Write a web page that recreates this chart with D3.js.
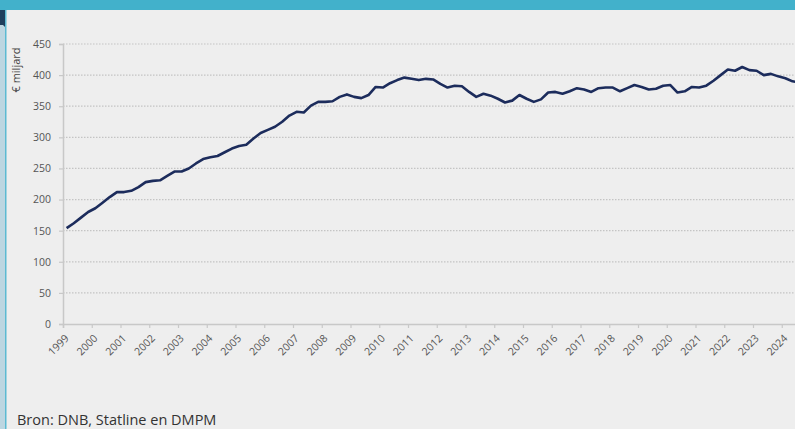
<!DOCTYPE html>
<html>
<head>
<meta charset="utf-8">
<script src="https://cdn.jsdelivr.net/npm/d3@7"></script>
<style>
  body { margin: 0; background: #eeeeee; }
  svg { display: block; }
</style>
</head>
<body>
<svg id="chart" width="795" height="429"></svg>
<script>
// quarterly values, € miljard, starting 1999 Q1
var startYear = 1999
var values = [
	154, 162, 171, 180,   // 1999
	186, 195, 204, 212,   // 2000
	212, 214, 220, 228,   // 2001
	230, 231, 238, 245,   // 2002
	245, 250, 258, 265,   // 2003
	268, 270, 276, 282,   // 2004
	286, 288, 298, 307,   // 2005
	312, 317, 325, 335,   // 2006
	341, 340, 351, 357,   // 2007
	357, 358, 365, 369,   // 2008
	365, 363, 368, 381,   // 2009
	380, 387, 392, 396,   // 2010
	394, 392, 394, 393,   // 2011
	386, 380, 383, 382,   // 2012
	373, 365, 370, 367,   // 2013
	362, 356, 359, 368,   // 2014
	362, 357, 361, 372,   // 2015
	373, 370, 374, 379,   // 2016
	377, 373, 379, 380,   // 2017
	380, 374, 379, 384,   // 2018
	381, 377, 378, 383,   // 2019
	384, 372, 374, 381,   // 2020
	380, 383, 391, 400,   // 2021
	409, 407, 413, 408,   // 2022
	407, 400, 402, 398,   // 2023
	395, 390, 388         // 2024
]
var yearTicks = d3.range(1999, 2025)
var yTicks = [0, 50, 100, 150, 200, 250, 300, 350, 400, 450]
var yTitle = '€ miljard'
var source = 'Bron: DNB, Statline en DMPM'

var svg = d3.select('#chart'),
	W = +svg.attr('width'),
	H = +svg.attr('height'),
	plot = {left: 63, right: 795, top: 44, bottom: 324}

// frame decoration
svg.append('rect').attr('x', 0).attr('y', 0).attr('width', W).attr('height', H).attr('fill', '#eeeeee')
svg.append('rect').attr('x', 0).attr('y', 0).attr('width', W).attr('height', 10).attr('fill', '#42b1cb')
svg.append('rect').attr('x', 0).attr('y', 10).attr('width', 6).attr('height', H - 10).attr('fill', '#bcd6e1')
svg.append('path').attr('d', 'M0,10 L5,10 L5,27 L3,25 L0,25 Z').attr('fill', '#1f3f5c')
svg.append('rect').attr('x', 5).attr('y', 10).attr('width', 1.5).attr('height', H - 10).attr('fill', '#5bbad2')

var x = d3.scaleLinear().domain([1999, 2025]).range([plot.left, plot.left + 26 * 28.75])
var y = d3.scaleLinear().domain([0, 450]).range([plot.bottom, plot.top])

var g = svg.append('g')

// gridlines
g.selectAll('line.grid').data(yTicks.filter(function(d) { return d > 0 }))
	.enter().append('line')
	.attr('x1', plot.left).attr('x2', plot.right)
	.attr('y1', function(d) { return y(d) }).attr('y2', function(d) { return y(d) })
	.attr('stroke', '#c4c4c4').attr('stroke-width', 1.2)
	.attr('stroke-dasharray', '1.5,1.5')

// y axis
var yAxis = g.append('g').attr('transform', 'translate(' + plot.left + ',0)')
	.call(d3.axisLeft(y).tickValues(yTicks).tickSize(4).tickPadding(8))
yAxis.select('.domain').attr('stroke', '#c8c8c8').attr('stroke-width', 1.5)
yAxis.selectAll('.tick line').attr('stroke', '#c8c8c8').attr('stroke-width', 1.2)
yAxis.selectAll('text').attr('fill', '#555').attr('font-size', 10.5)
	.attr('font-family', 'Open Sans, sans-serif')

// x axis
var xAxis = g.append('g').attr('transform', 'translate(0,' + plot.bottom + ')')
	.call(d3.axisBottom(x).tickValues(yearTicks.concat([2025])).tickSize(4)
		.tickFormat(function(d) { return d < 2025 ? d : '' }))
xAxis.select('.domain').attr('stroke', '#c8c8c8').attr('stroke-width', 1.5)
xAxis.selectAll('.tick line').attr('stroke', '#c8c8c8').attr('stroke-width', 1.2)
xAxis.selectAll('text')
	.attr('fill', '#555').attr('font-size', 10.5)
	.attr('font-family', 'Open Sans, sans-serif')
	.attr('text-anchor', 'end')
	.attr('dy', null).attr('y', null)
	.attr('transform', 'translate(6,15) rotate(-45)')

// line
var line = d3.line()
	.x(function(d, i) { return x(startYear + (i + 0.5) / 4) })
	.y(function(d) { return y(d) })

g.append('path').datum(values)
	.attr('d', line)
	.attr('fill', 'none')
	.attr('stroke', '#1c2c5c')
	.attr('stroke-width', 2.6)
	.attr('stroke-linejoin', 'round')

// axis title
svg.append('text').text(yTitle)
	.attr('transform', 'translate(20,70) rotate(-90)')
	.attr('text-anchor', 'middle')
	.attr('fill', '#444').attr('font-size', 11)
	.attr('font-family', 'Open Sans, sans-serif')

// source
svg.append('text').text(source)
	.attr('x', 17).attr('y', 425)
	.attr('fill', '#333').attr('font-size', 14.5)
	.attr('font-family', 'Open Sans, sans-serif')
</script>
</body>
</html>
